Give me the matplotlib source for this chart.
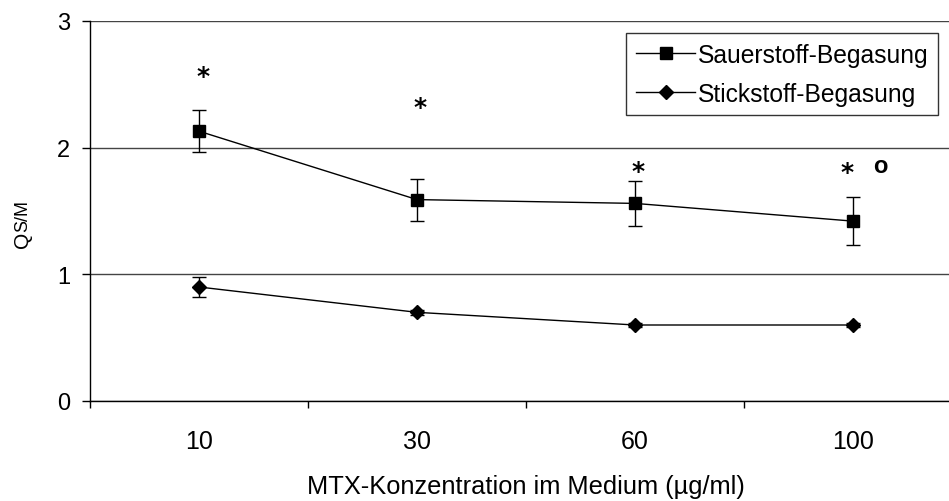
import numpy as np
import matplotlib
matplotlib.use('Agg')
import matplotlib.pyplot as plt

plt.rcParams['font.family'] = ['Liberation Sans', 'DejaVu Sans']

# MTX concentrations (ug/ml) and Q S/M ratios with standard deviation
conc = ['10', '30', '60', '100']
o2_mean = [2.13, 1.59, 1.56, 1.42]
o2_err = [0.165, 0.165, 0.18, 0.19]
n2_mean = [0.90, 0.70, 0.60, 0.60]
n2_err = [0.077, 0.02, 0.015, 0.015]

# significance marks above each group
star_level = [2.615, 2.37, 1.863, 1.857]
star_dx = [3, 2, 2, -4.5]          # points
circle_level = 1.857               # extra mark at 100 ug/ml
circle_dx = 20

W, H = 949, 502
fig = plt.figure(figsize=(W / 100., H / 100.), dpi=100)
ax = fig.add_axes([90. / W, 100. / H, 872. / W, 380. / H])

x = np.arange(len(conc))

ax.set_ylim(0, 3)
ax.set_xlim(-0.5, len(conc) - 0.5)
ax.set_yticks([0, 1, 2, 3])
ax.yaxis.grid(True, color='#444444', linewidth=1.0)
ax.set_axisbelow(True)

for s in ['top', 'right']:
    ax.spines[s].set_visible(False)
for s in ['left', 'bottom']:
    ax.spines[s].set_linewidth(1.0)
    ax.spines[s].set_color('k')

ax.errorbar(x, o2_mean, yerr=o2_err, fmt='none', ecolor='k', elinewidth=1.0,
            capsize=5, capthick=1.0, zorder=3)
ax.errorbar(x, n2_mean, yerr=n2_err, fmt='none', ecolor='k', elinewidth=1.0,
            capsize=5, capthick=1.0, zorder=3)
ax.plot(x, o2_mean, color='k', lw=1.0, marker='s', ms=9, mfc='k', mec='k',
        label='Sauerstoff-Begasung', zorder=4)
ax.plot(x, n2_mean, color='k', lw=1.0, marker='D', ms=6.8, mfc='k', mec='k',
        label='Stickstoff-Begasung', zorder=4)

for i in range(len(conc)):
    ax.annotate('*', xy=(x[i], star_level[i]), xytext=(star_dx[i], -9.5),
                textcoords='offset points', ha='center', va='baseline',
                fontsize=18, family='DejaVu Sans', fontweight='bold')
ax.annotate('o', xy=(x[-1], circle_level), xytext=(circle_dx, -4.7),
            textcoords='offset points', ha='center', va='baseline',
            fontsize=17, fontweight='bold')

# category axis: ticks between groups, labels centred on groups
ax.set_xticks(np.arange(-0.5, len(conc)))
ax.set_xticklabels([])
ax.set_xticks(x, minor=True)
ax.set_xticklabels(conc, minor=True)
ax.tick_params(axis='x', which='major', direction='out', length=5.2, width=1.0)
ax.tick_params(axis='x', which='minor', length=0, pad=20, labelsize=18)
ax.tick_params(axis='y', direction='out', length=5.8, width=1.0, pad=8.6,
               labelsize=17)

ax.set_xlabel(u'MTX-Konzentration im Medium (\u00b5g/ml)', fontsize=18.3)
ax.xaxis.label.set_va('baseline')
ax.xaxis.set_label_coords((526 - 90) / 872., -(494 - 402) / 380.)

# y label: Q with smaller S/M
fig.text(32.0 / W, 1 - 248. / H, 'Q', rotation=90, ha='right', va='bottom',
         fontsize=15)
fig.text(31.5 / W, 1 - 231.5 / H, 'S/M', rotation=90, ha='right', va='bottom',
         fontsize=13)

leg = ax.legend(loc='upper right', bbox_to_anchor=(938. / W, 1 - 34. / H),
                bbox_transform=fig.transFigure, borderaxespad=0,
                fontsize=17.7, handlelength=2.4, handletextpad=0.1,
                borderpad=0.4, labelspacing=0.6, fancybox=False,
                framealpha=1, edgecolor='#333333')
leg.get_frame().set_linewidth(1.0)

fig.savefig('out.png', dpi=100)
